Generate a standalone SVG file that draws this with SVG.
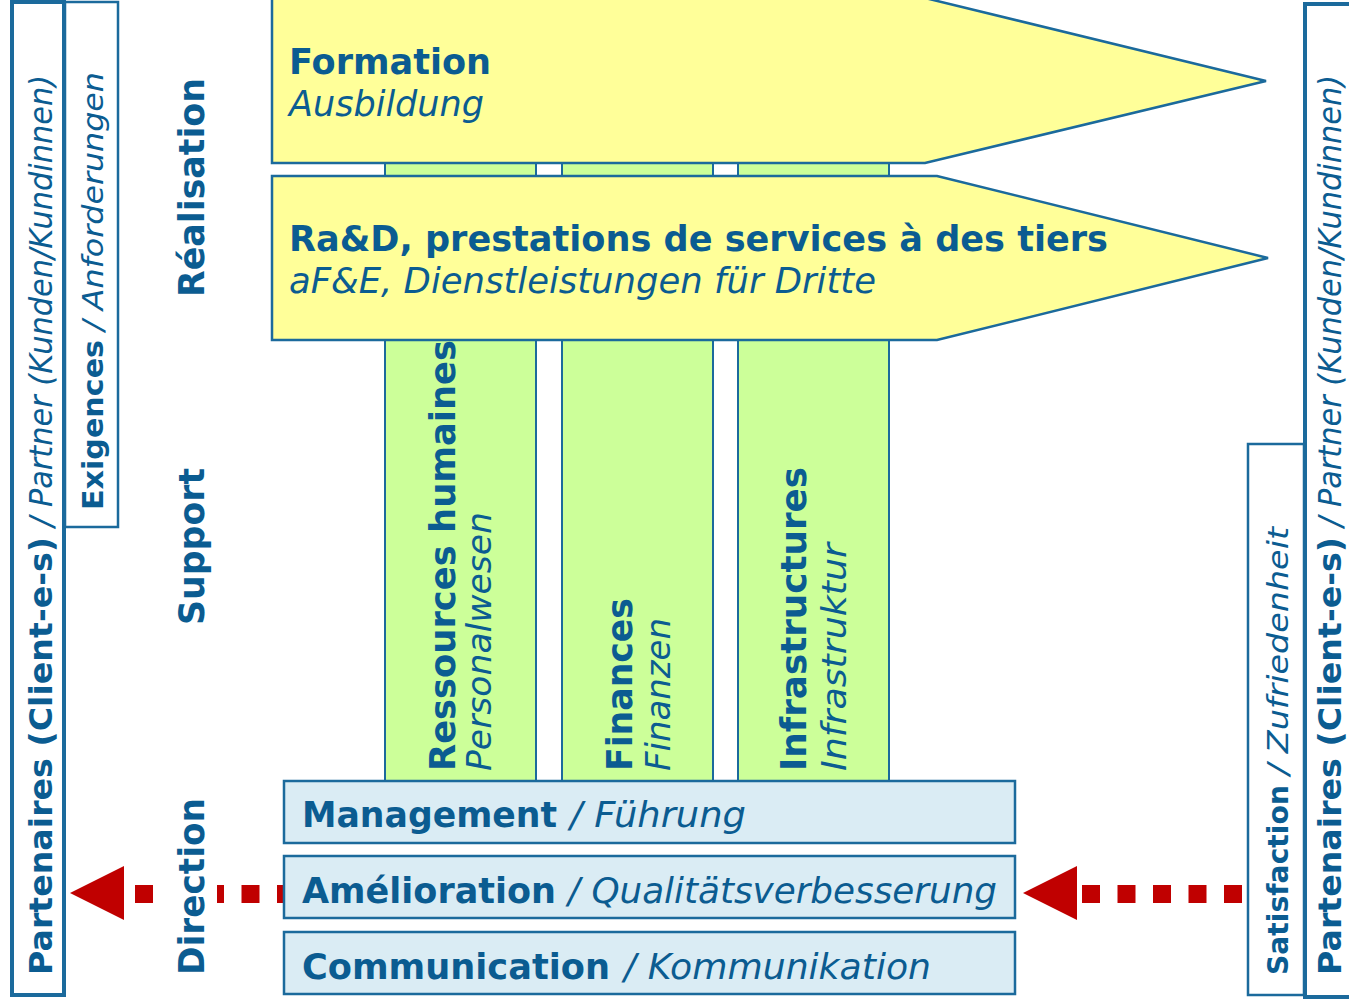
<svg xmlns="http://www.w3.org/2000/svg" width="1349" height="1001" viewBox="0 0 1349 1001">
<defs>
<style>
.t{font-family:"DejaVu Sans",Verdana,sans-serif;fill:#0b5c91}
.b{font-weight:bold}
.i{font-style:italic}
.col{fill:#ccff99;stroke:#1b6a9c;stroke-width:2}
.arr{fill:#ffff99;stroke:#1b6a9c;stroke-width:2.5}
.mg{fill:#daecf4;stroke:#1b6a9c;stroke-width:2.5}
.side{fill:#ffffff;stroke:#1b6a9c;stroke-width:2.5}
.sideo{fill:#ffffff;stroke:#1b6a9c;stroke-width:4}
.dash{stroke:#c00000;stroke-width:18;stroke-dasharray:18 17.5;fill:none}
.head{fill:#c00000}
</style>
</defs>
<rect width="1349" height="1001" fill="#ffffff"/>

<g id="col-rh"><rect class="col" x="385" y="150" width="151" height="632"/></g>
<g id="col-fin"><rect class="col" x="562" y="150" width="151" height="632"/></g>
<g id="col-infra"><rect class="col" x="738" y="150" width="151" height="632"/></g>

<g id="formation">
<polygon class="arr" points="272,-2 925,-2 1266,81 925,163 272,163"/>
<text class="t b" x="289" y="74" font-size="35" textLength="202" lengthAdjust="spacingAndGlyphs">Formation</text>
<text class="t i" x="289" y="116" font-size="35" textLength="195" lengthAdjust="spacingAndGlyphs">Ausbildung</text>
</g>
<g id="rad">
<polygon class="arr" points="272,176 937,176 1268,258 937,340 272,340"/>
<text class="t b" x="289" y="251" font-size="35" textLength="819" lengthAdjust="spacingAndGlyphs">Ra&amp;D, prestations de services à des tiers</text>
<text class="t i" x="289" y="293" font-size="35" textLength="587" lengthAdjust="spacingAndGlyphs">aF&amp;E, Dienstleistungen für Dritte</text>
</g>

<g id="col-texts">
<text class="t b" font-size="35" transform="translate(455,771) rotate(-90)" textLength="431" lengthAdjust="spacingAndGlyphs">Ressources humaines</text>
<text class="t i" font-size="34" transform="translate(491,771) rotate(-90)" textLength="259" lengthAdjust="spacingAndGlyphs">Personalwesen</text>
<text class="t b" font-size="35" transform="translate(632,771) rotate(-90)" textLength="173" lengthAdjust="spacingAndGlyphs">Finances</text>
<text class="t i" font-size="34" transform="translate(670,771) rotate(-90)" textLength="153" lengthAdjust="spacingAndGlyphs">Finanzen</text>
<text class="t b" font-size="35" transform="translate(806,771) rotate(-90)" textLength="304" lengthAdjust="spacingAndGlyphs">Infrastructures</text>
<text class="t i" font-size="34" transform="translate(846,771) rotate(-90)" textLength="228" lengthAdjust="spacingAndGlyphs">Infrastruktur</text>
</g>

<g id="connectors">
<line class="dash" x1="135" y1="894" x2="290" y2="894"/>
<polygon class="head" points="70,893 124,866 124,920"/>
<line class="dash" x1="1082" y1="894" x2="1242" y2="894"/>
<polygon class="head" points="1023,893 1077,866 1077,920"/>
</g>

<g id="management">
<rect class="mg" x="284" y="781" width="731" height="62"/>
<text class="t b" x="302" y="827" font-size="35" textLength="255" lengthAdjust="spacingAndGlyphs">Management</text>
<text class="t i" x="570" y="827" font-size="35" textLength="176" lengthAdjust="spacingAndGlyphs">/ Führung</text>
</g>
<g id="amelioration">
<rect class="mg" x="284" y="856" width="731" height="62"/>
<text class="t b" x="302" y="903" font-size="35" textLength="254" lengthAdjust="spacingAndGlyphs">Amélioration</text>
<text class="t i" x="568" y="903" font-size="35" textLength="429" lengthAdjust="spacingAndGlyphs">/ Qualitätsverbesserung</text>
</g>
<g id="communication">
<rect class="mg" x="284" y="932" width="731" height="62"/>
<text class="t b" x="302" y="979" font-size="35" textLength="308" lengthAdjust="spacingAndGlyphs">Communication</text>
<text class="t i" x="624" y="979" font-size="35" textLength="307" lengthAdjust="spacingAndGlyphs">/ Kommunikation</text>
</g>

<g id="partenaires-left">
<rect class="sideo" x="12" y="2" width="52" height="993"/>
<text class="t b" font-size="32" transform="translate(52,975) rotate(-90)" textLength="438" lengthAdjust="spacingAndGlyphs">Partenaires (Client-e-s)</text>
<text class="t i" font-size="32" transform="translate(52,527) rotate(-90)" textLength="452" lengthAdjust="spacingAndGlyphs">/ Partner (Kunden/Kundinnen)</text>
</g>
<g id="exigences">
<rect class="side" x="65" y="2" width="53" height="525"/>
<text class="t b" font-size="29" transform="translate(103,510) rotate(-90)" textLength="170" lengthAdjust="spacingAndGlyphs">Exigences</text>
<text class="t i" font-size="29" transform="translate(103,331) rotate(-90)" textLength="259" lengthAdjust="spacingAndGlyphs">/ Anforderungen</text>
</g>

<g id="labels">
<text class="t b" font-size="35" transform="translate(204,297) rotate(-90)" textLength="219" lengthAdjust="spacingAndGlyphs">Réalisation</text>
<text class="t b" font-size="35" transform="translate(204,625) rotate(-90)" textLength="157" lengthAdjust="spacingAndGlyphs">Support</text>
<rect x="160" y="880" width="57" height="28" fill="#ffffff"/>
<text class="t b" font-size="35" transform="translate(204,975) rotate(-90)" textLength="177" lengthAdjust="spacingAndGlyphs">Direction</text>
</g>

<g id="partenaires-right">
<rect class="sideo" x="1305" y="4" width="60" height="993"/>
<text class="t b" font-size="32" transform="translate(1341,975) rotate(-90)" textLength="438" lengthAdjust="spacingAndGlyphs">Partenaires (Client-e-s)</text>
<text class="t i" font-size="32" transform="translate(1341,527) rotate(-90)" textLength="452" lengthAdjust="spacingAndGlyphs">/ Partner (Kunden/Kundinnen)</text>
</g>
<g id="satisfaction">
<rect class="side" x="1248" y="444" width="56" height="551"/>
<text class="t b" font-size="29" transform="translate(1288,975) rotate(-90)" textLength="190" lengthAdjust="spacingAndGlyphs">Satisfaction</text>
<text class="t i" font-size="29" transform="translate(1288,775) rotate(-90)" textLength="248" lengthAdjust="spacingAndGlyphs">/ Zufriedenheit</text>
</g>
</svg>
